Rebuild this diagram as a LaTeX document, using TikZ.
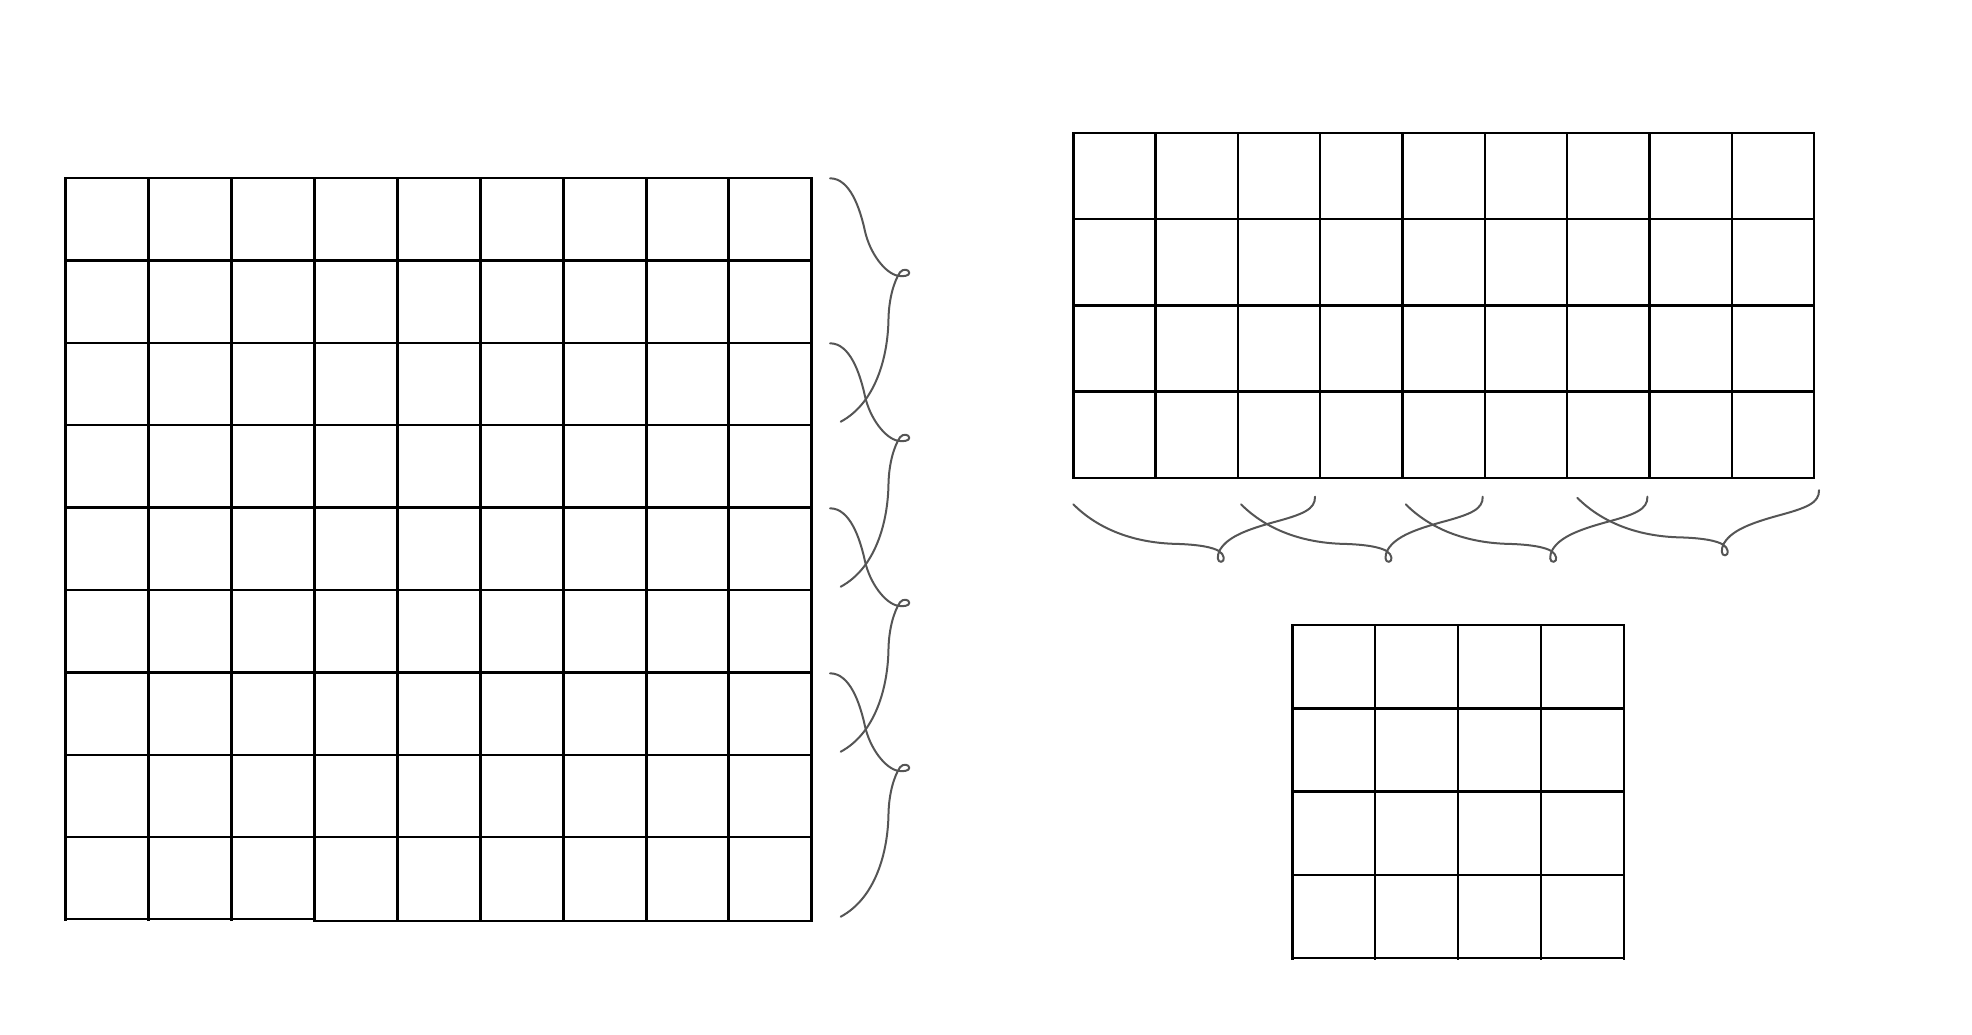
\documentclass[tikz,border=0pt]{standalone}
\definecolor{braceGray}{HTML}{555555}
\tikzset{
  gridline/.style={line width=2.4pt,black,line cap=rect},
  gridthick/.style={line width=3pt,black,line cap=rect},
  bracestyle/.style={line width=2pt,draw=braceGray,line cap=round,line join=round},
  vbrace/.pic={
    \draw[bracestyle] (0,0) .. controls (20,0) and (30,30) .. (35,53)
      .. controls (40,75) and (55,95) .. (68,97.5)
      .. controls (73,98.5) and (79.5,97.5) .. (79.3,94.5)
      .. controls (79,91) and (73,90) .. (70,94)
      .. controls (64,103) and (59,120) .. (58.5,140)
      .. controls (58,180) and (45,225) .. (10.7,243.4);
  },
  hbrace/.pic={
    \draw[bracestyle] (0,0) .. controls (25,25) and (60,38) .. (100,39.5)
      .. controls (125,40) and (140,43) .. (146,47)
      .. controls (151,50) and (152,57) .. (148,57.5)
      .. controls (144,58) and (143,52) .. (147,45)
      .. controls (155,32) and (175,25) .. (200,18)
      .. controls (230,10) and (242,5) .. (241.7,-7.6);
  }
}
\begin{document}
\begin{tikzpicture}[x=1pt,y=-1pt]
\useasboundingbox (0,0) rectangle (1972,1034);
% big 9x9 grid
\foreach \i in {0,...,9} {
  \draw[gridthick] ({65.7+82.9*\i},178) -- ({65.7+82.9*\i},919.6);
}
\foreach \j in {0,...,8} {
  \draw[gridline] (65.7,{178+82.4*\j}) -- (811.8,{178+82.4*\j});
}
\draw[gridline] (65.7,919.2) -- (314.4,919.2);
\draw[gridline] (314.4,921) -- (811.8,921);
% top-right 9x4 grid
\foreach \i in {0,...,9} {
  \draw[gridline] ({1073.3+82.3*\i},132.7) -- ({1073.3+82.3*\i},477.9);
}
\foreach \j in {0,...,4} {
  \draw[gridline] (1073.3,{132.7+86.3*\j}) -- (1814,{132.7+86.3*\j});
}
% bottom 4x4 grid
\foreach \i in {0,...,4} {
  \draw[gridline] ({1292.3+82.9*\i},625) -- ({1292.3+82.9*\i},958.3);
}
\foreach \j in {0,...,4} {
  \draw[gridline] (1292.3,{625+83.3*\j}) -- (1624,{625+83.3*\j});
}
% vertical braces
\foreach \k in {0,...,3} {
  \pic at (830,{178.3+165*\k}) {vbrace};
}
% horizontal braces
\pic at (1073.3,504.3) {hbrace};
\pic at (1241,504.3) {hbrace};
\pic at (1405.7,504.3) {hbrace};
\pic at (1577.3,497.8) {hbrace};
\end{tikzpicture}
\end{document}
